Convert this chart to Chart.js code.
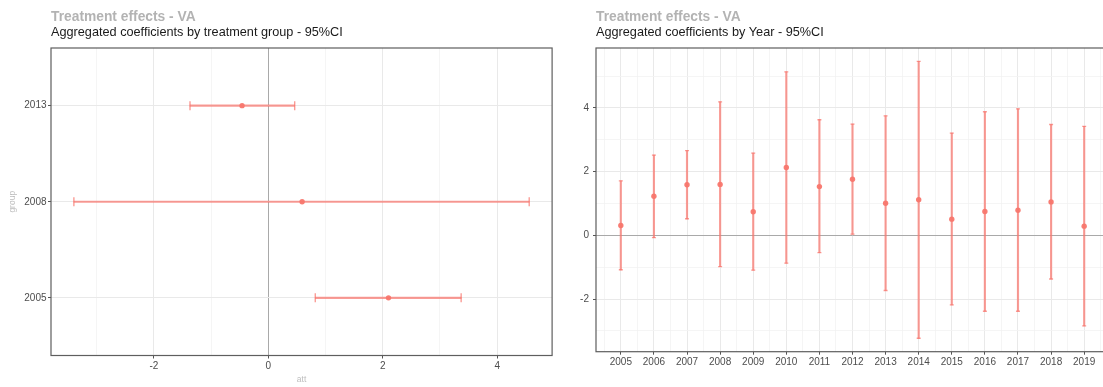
<!DOCTYPE html>
<html>
<head>
<meta charset="utf-8">
<script src="https://cdn.jsdelivr.net/npm/chart.js@4.4.1/dist/chart.umd.min.js"></script>
<style>
  html, body { margin: 0; padding: 0; background: #fff; overflow: hidden; width: 1103px; height: 387px; }
  #groupChart { position: absolute; left: 0; top: 0; }
  #yearChart { position: absolute; left: 550px; top: 0; }
</style>
</head>
<body>
<canvas id="groupChart" width="558" height="387"></canvas>
<canvas id="yearChart" width="565" height="387"></canvas>
<script>
const groups = ['2005', '2008', '2013'];
const groupAtt = [2.10, 0.59, -0.46];
const groupLower = [0.82, -3.40, -1.37];
const groupUpper = [3.37, 4.56, 0.46];

const years = [2005, 2006, 2007, 2008, 2009, 2010, 2011, 2012, 2013, 2014, 2015, 2016, 2017, 2018, 2019];
const yearAtt = [0.31, 1.23, 1.59, 1.60, 0.74, 2.13, 1.53, 1.76, 1.01, 1.12, 0.51, 0.75, 0.79, 1.05, 0.29];
const yearLower = [-1.08, -0.07, 0.52, -0.98, -1.09, -0.87, -0.54, 0.04, -1.73, -3.23, -2.18, -2.38, -2.38, -1.37, -2.84];
const yearUpper = [1.71, 2.52, 2.66, 4.19, 2.58, 5.13, 3.63, 3.49, 3.75, 5.46, 3.21, 3.88, 3.97, 3.48, 3.42];

const attTicks = [-2, 0, 2, 4];
const attMinorTicks = [-3, -1, 1, 3];
const effectTicks = [-2, 0, 2, 4];
const effectMinorTicks = [-3, -1, 1, 3, 5];

const errColor = 'rgba(248, 118, 109, 0.72)';
const pointColor = 'rgba(248, 118, 109, 0.95)';
const tickFont = { family: 'Liberation Sans, Arial, sans-serif', size: 10 };

const framePlugin = {
    id: 'frame',
    afterDatasetsDraw(chart) {
        const a = chart.chartArea;
        const ctx = chart.ctx;
        ctx.save();
        ctx.strokeStyle = '#5e5e5e';
        ctx.lineWidth = 1.2;
        ctx.strokeRect(a.left, a.top, a.right - a.left, a.bottom - a.top);
        ctx.restore();
    }
};

function gridStyle(majors, zeroLine) {
    const val = ctx => ctx.tick ? ctx.tick.value : null;
    return {
        offset: false,
        drawTicks: true,
        tickLength: 3,
        color: ctx => (zeroLine && val(ctx) === 0) ? '#a9a9a9' : majors.includes(val(ctx)) ? '#e9e9e9' : '#f3f3f3',
        lineWidth: ctx => majors.includes(val(ctx)) ? 1 : 0.8,
        tickColor: ctx => majors.includes(val(ctx)) ? '#555' : 'rgba(0,0,0,0)',
        tickWidth: 1
    };
}

function setTicks(list) {
    return scale => { scale.ticks = list.slice().sort((a, b) => a - b).map(v => ({ value: v })); };
}

function titles(sub) {
    return {
        title: {
            display: true, text: 'Treatment effects - VA', align: 'start', fullSize: false,
            color: '#b3b3b3',
            font: { family: 'Liberation Sans, Arial, sans-serif', size: 13.8, weight: 'bold', lineHeight: 1 },
            padding: { top: 10.3, bottom: 0 }
        },
        subtitle: {
            display: true, text: sub, align: 'start', fullSize: false,
            color: '#1a1a1a',
            font: { family: 'Liberation Sans, Arial, sans-serif', size: 12.7, lineHeight: 1 },
            padding: { top: 2.4, bottom: 8.8 }
        },
        legend: { display: false },
        tooltip: { enabled: false }
    };
}

// left panel: one row per treatment group
const groupRows = groups.map((g, i) => i + 1);
new Chart(document.getElementById('groupChart'), {
    type: 'scatter',
    data: {
        datasets: [
            {
                type: 'scatter',
                data: groupRows.map((r, i) => ({ x: groupAtt[i], y: r })),
                pointRadius: 2.7, backgroundColor: pointColor, borderWidth: 0, order: 1
            },
            {
                type: 'scatter',
                data: groupRows.map((r, i) => ({ x: groupLower[i], y: r }))
                    .concat(groupRows.map((r, i) => ({ x: groupUpper[i], y: r }))),
                pointStyle: 'line', pointRotation: 90, pointRadius: 4.5,
                borderColor: errColor, borderWidth: 1.4, order: 2
            },
            {
                type: 'bar',
                indexAxis: 'y',
                data: groupRows.map((r, i) => ({ y: r, x: [groupLower[i], groupUpper[i]] })),
                backgroundColor: errColor, borderWidth: 0, barThickness: 1.5, order: 3
            }
        ]
    },
    options: {
        responsive: false,
        animation: false,
        events: [],
        layout: { padding: { left: 0, right: 3.5, top: 0, bottom: 0 } },
        plugins: titles('Aggregated coefficients by treatment group - 95%CI'),
        scales: {
            x: {
                type: 'linear', min: -3.80, max: 4.96, offset: false,
                afterBuildTicks: setTicks(attTicks.concat(attMinorTicks)),
                afterFit: s => { s.height = 31.5; },
                grid: gridStyle(attTicks, true),
                border: { display: false },
                ticks: {
                    autoSkip: false, maxRotation: 0, padding: 2, color: '#4d4d4d', font: tickFont,
                    callback: v => attTicks.includes(v) ? String(v) : ''
                },
                title: {
                    display: true, text: 'att', color: '#bdbdbd',
                    font: { family: 'Liberation Sans, Arial, sans-serif', size: 8.5 },
                    padding: { top: 0, bottom: 2.4 }
                }
            },
            y: {
                type: 'linear', min: 0.4, max: 3.6, offset: false,
                afterBuildTicks: setTicks(groupRows),
                afterFit: s => { s.width = 51; },
                grid: gridStyle(groupRows, false),
                border: { display: false },
                ticks: {
                    autoSkip: false, padding: 1.5, color: '#4d4d4d', font: tickFont,
                    callback: v => groups[v - 1] || ''
                },
                title: {
                    display: true, text: 'group', color: '#bdbdbd',
                    font: { family: 'Liberation Sans, Arial, sans-serif', size: 8.5 },
                    padding: { top: 7.5, bottom: 0 }
                }
            }
        }
    },
    plugins: [framePlugin]
});

// right panel: one column per year
const yearGrid = years.flatMap(y => [y - 0.5, y]).concat([years[years.length - 1] + 0.5]);
new Chart(document.getElementById('yearChart'), {
    type: 'scatter',
    data: {
        datasets: [
            {
                type: 'scatter',
                data: years.map((y, i) => ({ x: y, y: yearAtt[i] })),
                pointRadius: 2.7, backgroundColor: pointColor, borderWidth: 0, order: 1
            },
            {
                type: 'scatter',
                data: years.map((y, i) => ({ x: y, y: yearLower[i] }))
                    .concat(years.map((y, i) => ({ x: y, y: yearUpper[i] }))),
                pointStyle: 'line', pointRadius: 2,
                borderColor: errColor, borderWidth: 1.4, order: 2
            },
            {
                type: 'bar',
                data: years.map((y, i) => ({ x: y, y: [yearLower[i], yearUpper[i]] })),
                backgroundColor: errColor, borderWidth: 0, barThickness: 1.5, order: 3
            }
        ]
    },
    options: {
        responsive: false,
        animation: false,
        events: [],
        layout: { padding: { left: 0, right: 6, top: 0, bottom: 0 } },
        plugins: titles('Aggregated coefficients by Year - 95%CI'),
        scales: {
            x: {
                type: 'linear', min: 2004.25, max: 2019.75, offset: false,
                afterBuildTicks: setTicks(yearGrid),
                afterFit: s => { s.height = 35.3; },
                grid: gridStyle(years, false),
                border: { display: false },
                ticks: {
                    autoSkip: false, maxRotation: 0, padding: 2, color: '#4d4d4d', font: tickFont,
                    callback: v => years.includes(v) ? String(v) : ''
                }
            },
            y: {
                type: 'linear', min: -3.65, max: 5.88, offset: false,
                afterBuildTicks: setTicks(effectTicks.concat(effectMinorTicks)),
                afterFit: s => { s.width = 46; },
                grid: gridStyle(effectTicks, true),
                border: { display: false },
                ticks: {
                    autoSkip: false, padding: 4, color: '#4d4d4d', font: tickFont,
                    callback: v => effectTicks.includes(v) ? String(v) : ''
                }
            }
        }
    },
    plugins: [framePlugin]
});
</script>
</body>
</html>
